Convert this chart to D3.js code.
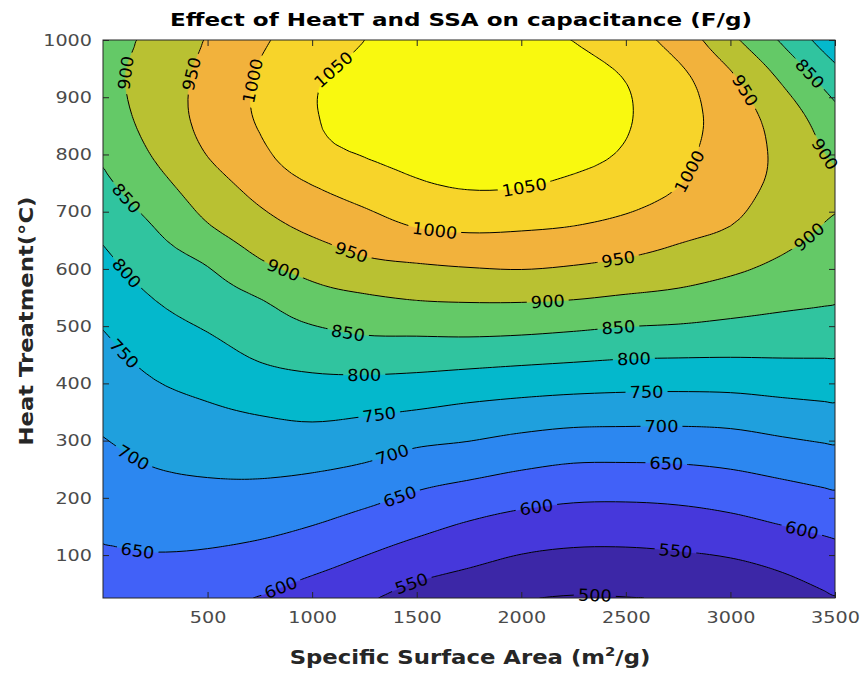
<!DOCTYPE html>
<html>
<head>
<meta charset="utf-8">
<script src="https://d3js.org/d3.v7.min.js"></script>
<style>
  body { margin: 0; background: #fff; }
  svg text { font-family: "DejaVu Sans", sans-serif; }
</style>
</head>
<body>
<svg id="chart" width="862" height="673"></svg>
<script>
// ---- data ----
// grid columns: specific surface area (m2/g)
var ssa = [0, 250, 500, 750, 1000, 1250, 1500, 1750, 2000, 2250, 2500, 2750, 3000, 3250, 3500];
// grid rows: heat treatment (degC), top to bottom
var heatT = [1000, 935, 870, 805, 740, 675, 610, 545, 480, 415, 350, 285, 220, 155, 90, 25];
// capacitance (F/g), one row per heatT value, one column per ssa value
var capacitance = [
  [880, 912, 953, 993, 1023, 1050, 1066, 1066, 1064, 1049, 1022, 980, 912, 843, 765],
  [885, 921, 964, 1005, 1044, 1062, 1081, 1085, 1083, 1069, 1048, 1012, 957, 891, 820],
  [876, 920, 966, 1006, 1047, 1063, 1082, 1088, 1087, 1073, 1054, 1020, 976, 925, 863],
  [859, 906, 953, 991, 1036, 1054, 1068, 1077, 1075, 1064, 1046, 1013, 977, 938, 889],
  [837, 881, 926, 964, 996, 1019, 1041, 1051, 1049, 1038, 1024, 999, 967, 938, 912],
  [812, 852, 897, 933, 961, 981, 1002, 1009, 1006, 1000, 987, 967, 950, 921, 892],
  [789, 826, 853, 895, 921, 942, 950, 956, 959, 953, 943, 930, 914, 893, 873],
  [767, 800, 824, 848, 878, 891, 900, 903, 903, 899, 891, 884, 872, 861, 853],
  [746, 776, 796, 820, 836, 847, 848, 849, 846, 840, 833, 830, 826, 823, 821],
  [729, 753, 769, 789, 798, 800, 797, 791, 785, 780, 776, 775, 776, 780, 782],
  [712, 732, 743, 753, 760, 755, 747, 737, 729, 723, 721, 720, 722, 731, 739],
  [694, 711, 719, 723, 723, 715, 698, 690, 678, 669, 668, 669, 674, 685, 695],
  [677, 689, 694, 694, 687, 674, 655, 642, 629, 620, 619, 622, 630, 642, 654],
  [659, 667, 668, 664, 652, 634, 615, 597, 583, 576, 575, 579, 588, 602, 615],
  [643, 645, 641, 631, 615, 595, 574, 558, 543, 536, 536, 540, 547, 561, 580],
  [630, 625, 612, 598, 577, 557, 531, 516, 503, 497, 499, 503, 513, 528, 548]
];
var levels = [500, 550, 600, 650, 700, 750, 800, 850, 900, 950, 1000, 1050];
// fill colour per band: below 500, 500-550, ..., above 1050
var bandColors = ['#39219a', '#3c27a7', '#4638db', '#4161f8', '#2c87f0', '#1fa0dd',
                  '#04b8cc', '#30c49f', '#64c967', '#b9c132', '#f2b23c', '#f7d42a', '#f9f90f'];
var xTicks = [500, 1000, 1500, 2000, 2500, 3000, 3500];
var yTicks = [100, 200, 300, 400, 500, 600, 700, 800, 900, 1000];
// inline contour labels: [level, ssa, heatT] near where each label sits
var labelSpots = [
  [900, 141, 942], [950, 409, 942], [1000, 706, 930], [1050, 1103, 948],
  [850, 98, 720], [800, 117, 595], [750, 108, 453], [700, 141, 270], [650, 170, 112],
  [600, 849, 43], [550, 1471, 51],
  [900, 859, 595], [950, 1184, 624], [1000, 1582, 665], [1050, 2013, 743],
  [850, 1175, 488], [800, 1247, 415], [750, 1319, 345], [700, 1386, 275], [650, 1414, 205],
  [900, 2127, 542], [950, 2462, 616], [1000, 2811, 768], [950, 3065, 911],
  [850, 3386, 942], [900, 3457, 803], [900, 3386, 654],
  [850, 2462, 497], [800, 2538, 444], [750, 2596, 385], [700, 2668, 327], [650, 2692, 263],
  [600, 2070, 188], [600, 3338, 144], [550, 2740, 109], [500, 2352, 29]
];

(function() {
  // ---- layout ----
  var pL = 103, pR = 835, pT = 40, pB = 598;
  var svg = d3.select('#chart');

  var x = d3.scaleLinear().domain([0, 3500]).range([pL, pR]);
  var y = d3.scaleLinear().domain([25, 1000]).range([pB, pT]);

  // smooth (cubic) resampling of the grid so the contours come out round, like contourf
  var F = 5;
  function cubic(p0, p1, p2, p3, t) {
    return 0.5 * (2 * p1 + (p2 - p0) * t + (2 * p0 - 5 * p1 + 4 * p2 - p3) * t * t +
      (3 * p1 - p0 - 3 * p2 + p3) * t * t * t);
  }
  function resample(arr) {
    var k = arr.length, out = [];
    function at(i) {
      if (i < 0) return 2 * arr[0] - arr[1];
      if (i > k - 1) return 2 * arr[k - 1] - arr[k - 2];
      return arr[i];
    }
    for (var i = 0; i < k - 1; i++) {
      for (var s = 0; s < F; s++) {
        out.push(cubic(at(i - 1), at(i), at(i + 1), at(i + 2), s / F));
      }
    }
    out.push(arr[k - 1]);
    return out;
  }
  var rowsFine = capacitance.map(resample);
  var nF = rowsFine[0].length;
  var colsFine = [];
  for (var c = 0; c < nF; c++) {
    colsFine.push(resample(rowsFine.map(function(r) { return r[c]; })));
  }
  var mF = colsFine[0].length;
  var values = new Array(nF * mF);
  for (var j = 0; j < mF; j++) {
    for (var i = 0; i < nF; i++) values[j * nF + i] = colsFine[i][j];
  }

  var dxStep = (ssa[1] - ssa[0]) / F, dyStep = (heatT[1] - heatT[0]) / F;
  // contour grid units -> pixels (sample i sits at i + 0.5)
  function gx(g) { return x(ssa[0] + (g - 0.5) * dxStep); }
  function gy(g) { return y(heatT[0] + (g - 0.5) * dyStep); }

  var contours = d3.contours().size([nF, mF]).thresholds(levels)(values);

  var smooth = d3.line().curve(d3.curveCatmullRomClosed.alpha(0.5));
  function geomPath(geom) {
    var d = '';
    geom.coordinates.forEach(function(poly) {
      poly.forEach(function(ring) {
        var pts = ring.slice(0, ring.length - 1).map(function(p) { return [gx(p[0]), gy(p[1])]; });
        if (pts.length > 2) d += smooth(pts);
      });
    });
    return d;
  }

  var defs = svg.append('defs');
  defs.append('clipPath').attr('id', 'plotClip')
    .append('rect').attr('x', pL).attr('y', pT)
    .attr('width', pR - pL).attr('height', pB - pT);

  var plot = svg.append('g').attr('clip-path', 'url(#plotClip)');

  // filled bands
  plot.append('rect')
    .attr('x', pL).attr('y', pT).attr('width', pR - pL).attr('height', pB - pT)
    .attr('fill', bandColors[0]);

  var paths = contours.map(function(c) { return geomPath(c); });

  plot.selectAll('path.band')
    .data(contours)
    .enter().append('path')
    .attr('class', 'band')
    .attr('d', function(d, i) { return paths[i] || null; })
    .attr('fill', function(d, i) { return bandColors[i + 1]; })
    .attr('fill-rule', 'evenodd')
    .attr('stroke', function(d, i) { return bandColors[i + 1]; })
    .attr('stroke-width', 0.6);

  // contour lines (masked where labels sit)
  var mask = defs.append('mask').attr('id', 'labelMask').attr('maskUnits', 'userSpaceOnUse')
    .attr('x', 0).attr('y', 0).attr('width', 862).attr('height', 673);
  mask.append('rect').attr('x', 0).attr('y', 0).attr('width', 862).attr('height', 673).attr('fill', '#fff');

  var lineGroup = plot.append('g').attr('mask', 'url(#labelMask)');
  var linePaths = lineGroup.selectAll('path.cline')
    .data(contours)
    .enter().append('path')
    .attr('class', 'cline')
    .attr('d', function(d, i) { return paths[i] || null; })
    .attr('fill', 'none')
    .attr('stroke', '#000')
    .attr('stroke-width', 1);

  // sample each contour path once, for label snapping
  var samples = {};
  linePaths.each(function(d, i) {
    var pts = [];
    if (paths[i]) {
      var len = this.getTotalLength();
      for (var s = 0; s <= len; s += 1.5) {
        var p = this.getPointAtLength(s);
        pts.push([p.x, p.y]);
      }
    }
    samples[levels[i]] = pts;
  });

  var labelLayer = svg.append('g');
  labelSpots.forEach(function(spot) {
    var pts = samples[spot[0]];
    if (!pts || !pts.length) return;
    var tx = x(spot[1]), ty = y(spot[2]);
    var best = -1, bestD = Infinity;
    pts.forEach(function(p, k) {
      if (p[0] < pL - 1 || p[0] > pR + 1 || p[1] < pT - 1 || p[1] > pB + 1) return;
      var dd = (p[0] - tx) * (p[0] - tx) + (p[1] - ty) * (p[1] - ty);
      if (dd < bestD) { bestD = dd; best = k; }
    });
    if (best < 0) return;
    var a = pts[Math.max(0, best - 5)], b = pts[Math.min(pts.length - 1, best + 5)];
    var ang = Math.atan2(b[1] - a[1], b[0] - a[0]) * 180 / Math.PI;
    if (ang > 90) ang -= 180;
    if (ang < -90) ang += 180;
    var cx = pts[best][0], cy = pts[best][1];
    var txt = String(spot[0]);
    var w = txt.length * 11.3;
    labelLayer.append('text')
      .attr('transform', 'translate(' + cx + ',' + cy + ') rotate(' + ang + ')')
      .attr('text-anchor', 'middle')
      .attr('dy', '0.36em')
      .attr('font-size', '16.5px')
      .attr('textLength', w)
      .attr('lengthAdjust', 'spacingAndGlyphs')
      .attr('fill', '#000')
      .text(txt);
    mask.append('rect')
      .attr('x', -w / 2 - 4).attr('y', -8).attr('width', w + 8).attr('height', 16)
      .attr('transform', 'translate(' + cx + ',' + cy + ') rotate(' + ang + ')')
      .attr('fill', '#000');
  });

  // axes: ticks pointing inward on all four sides
  var axisColor = '#262626';
  var fmt = d3.format('d');
  var gBottom = svg.append('g').attr('transform', 'translate(0,' + pB + ')')
    .call(d3.axisBottom(x).tickValues(xTicks).tickFormat(fmt).tickSize(-6).tickSizeOuter(0).tickPadding(13));
  var gTop = svg.append('g').attr('transform', 'translate(0,' + pT + ')')
    .call(d3.axisTop(x).tickValues(xTicks).tickSize(-6).tickSizeOuter(0).tickFormat(''));
  var gLeft = svg.append('g').attr('transform', 'translate(' + pL + ',0)')
    .call(d3.axisLeft(y).tickValues(yTicks).tickFormat(fmt).tickSize(-6).tickSizeOuter(0).tickPadding(11));
  var gRight = svg.append('g').attr('transform', 'translate(' + pR + ',0)')
    .call(d3.axisRight(y).tickValues(yTicks).tickSize(-6).tickSizeOuter(0).tickFormat(''));

  [gBottom, gTop, gLeft, gRight].forEach(function(g) {
    g.select('.domain').remove();
    g.selectAll('line').attr('stroke', axisColor);
    g.selectAll('text')
      .attr('font-size', '16.5px').attr('fill', '#4a4a4a')
      .attr('font-family', '"DejaVu Sans", sans-serif')
      .attr('lengthAdjust', 'spacingAndGlyphs')
      .attr('textLength', function() { return this.textContent.length * 12.2; });
  });

  svg.append('rect')
    .attr('x', pL).attr('y', pT).attr('width', pR - pL).attr('height', pB - pT)
    .attr('fill', 'none').attr('stroke', axisColor).attr('stroke-width', 1);

  labelLayer.raise();

  // titles
  svg.append('text')
    .attr('x', 461).attr('y', 26)
    .attr('text-anchor', 'middle')
    .attr('font-size', '18px').attr('font-weight', 'bold').attr('fill', '#000')
    .attr('textLength', 582).attr('lengthAdjust', 'spacingAndGlyphs')
    .text('Effect of HeatT and SSA on capacitance (F/g)');

  var xl = svg.append('text')
    .attr('x', 470).attr('y', 664)
    .attr('text-anchor', 'middle')
    .attr('font-size', '20px').attr('font-weight', 'bold').attr('fill', '#262626');
  xl.append('tspan').text('Specific Surface Area (m');
  xl.append('tspan').attr('dy', -8).attr('font-size', '13px').text('2');
  xl.append('tspan').attr('dy', 8).text('/g)');
  var xw = xl.node().getComputedTextLength();
  xl.attr('transform', 'translate(470,0) scale(' + (361 / xw) + ',1) translate(-470,0)');

  svg.append('text')
    .attr('transform', 'translate(33,321) rotate(-90)')
    .attr('text-anchor', 'middle')
    .attr('font-size', '20px').attr('font-weight', 'bold').attr('fill', '#262626')
    .attr('textLength', 249).attr('lengthAdjust', 'spacingAndGlyphs')
    .text('Heat Treatment(\u00B0C)');
})();
</script>
</body>
</html>
